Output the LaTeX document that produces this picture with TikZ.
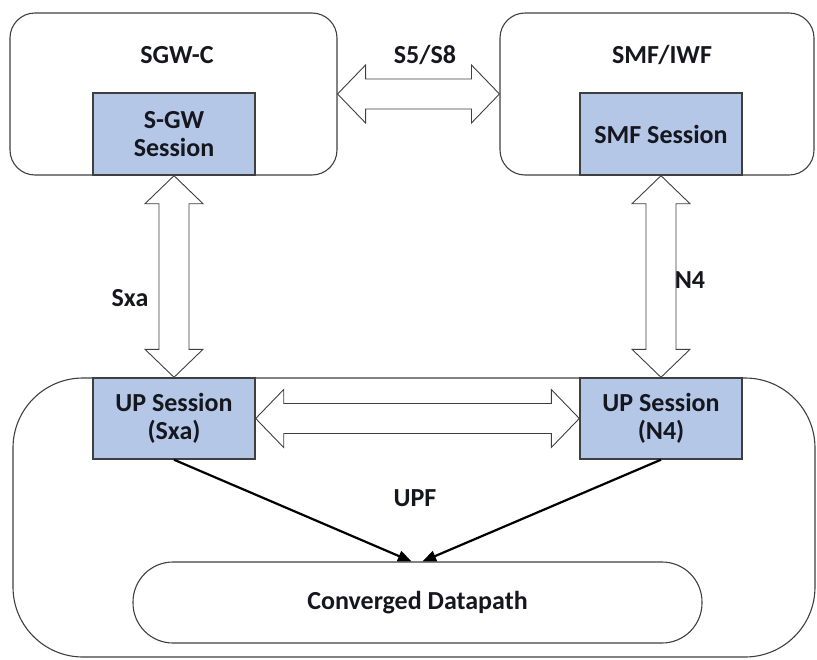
\documentclass[tikz,border=0pt]{standalone}
\usepackage{fontspec}
\setmainfont{Carlito}
\usetikzlibrary{calc,arrows}
\definecolor{sessblue}{HTML}{B4C7E7}
\definecolor{edgegray}{HTML}{3F3F3F}
\definecolor{txtdark}{HTML}{16161E}

% vertical block arrow with two heads: #1 upper anchor, #2 lower anchor
\newcommand{\vdarrow}[2]{%
  \draw[blockarrow] let \p1=(#1), \p2=(#2) in
    (\x1,\y1) -- (\x1+29pt,\y1-28pt) -- (\x1+15pt,\y1-28pt) -- (\x1+15pt,\y2+28pt)
    -- (\x1+29pt,\y2+28pt) -- (\x1,\y2) -- (\x1-29pt,\y2+28pt) -- (\x1-15pt,\y2+28pt)
    -- (\x1-15pt,\y1-28pt) -- (\x1-29pt,\y1-28pt) -- cycle;}
% horizontal block arrow with two heads: #1 left anchor, #2 right anchor
\newcommand{\hdarrow}[2]{%
  \draw[blockarrow] let \p1=(#1), \p2=(#2) in
    (\x1,\y1) -- (\x1+28pt,\y1+29pt) -- (\x1+28pt,\y1+15pt) -- (\x2-28pt,\y1+15pt)
    -- (\x2-28pt,\y1+29pt) -- (\x2,\y1) -- (\x2-28pt,\y1-29pt) -- (\x2-28pt,\y1-15pt)
    -- (\x1+28pt,\y1-15pt) -- (\x1+28pt,\y1-29pt) -- cycle;}

\begin{document}
\begin{tikzpicture}[x=1pt,y=-1pt,>=triangle 45,
    font=\fontsize{26}{28}\selectfont\bfseries,text=txtdark,
    outerbox/.style={draw=edgegray,line width=1.1pt,inner sep=0pt},
    sessbox/.style={draw=edgegray,fill=sessblue,line width=1.4pt,
      minimum width=162pt,minimum height=82pt,inner sep=0pt,align=center},
    blockarrow/.style={draw=edgegray,fill=white,line width=0.9pt,line join=miter},
    flow/.style={->,black,line width=2.2pt}]
    \useasboundingbox (0,0) rectangle (817,659);

    % control plane boxes
    \node (sgwc) at (173.5,94) [outerbox,rounded corners=25pt,minimum width=327pt,minimum height=162pt] {};
    \node (smf) at (657,94) [outerbox,rounded corners=25pt,minimum width=314pt,minimum height=162pt] {};
    \node (sgwclabel) at (177,55) {SGW-C};
    \node (smflabel) at (662,55) {SMF/IWF};
    \node (sgwsess) at (174,134) [sessbox] {S-GW\\Session};
    \node (smfsess) at (661,134) [sessbox] {SMF Session};

    % user plane box
    \node (upf) at (414,517.5) [outerbox,rounded corners=70pt,minimum width=802pt,minimum height=279pt] {};
    \node (upflabel) at (415,498) {UPF};
    \node (upsxa) at (174,418.5) [sessbox,minimum height=81pt] {UP Session\\(Sxa)};
    \node (upn4) at (661,418.5) [sessbox,minimum height=81pt] {UP Session\\(N4)};
    \node (datapath) at (417.5,602.5) [outerbox,rounded corners=40pt,minimum width=569pt,minimum height=81pt] {Converged Datapath};

    % interfaces
    \hdarrow{sgwc.east}{smf.west}
    \node (s5label) at (425,55) {S5/S8};
    \vdarrow{sgwsess.south}{upsxa.north}
    \node (sxalabel) at (130,298) {Sxa};
    \vdarrow{smfsess.south}{upn4.north}
    \node (n4label) at (690,280) {N4};
    \hdarrow{upsxa.east}{upn4.west}

    % sessions into the datapath
    \draw[flow] (upsxa.south) -- ([xshift=-6pt]datapath.north);
    \draw[flow] (upn4.south) -- ([xshift=5pt]datapath.north);
\end{tikzpicture}
\end{document}
